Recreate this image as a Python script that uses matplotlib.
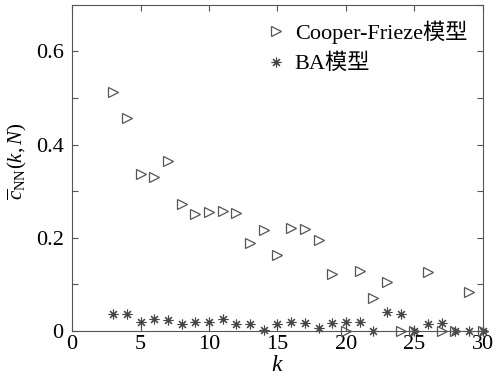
import matplotlib
matplotlib.use('Agg')
import matplotlib.pyplot as plt
from matplotlib.ticker import MultipleLocator

plt.rcParams['font.family'] = 'serif'
plt.rcParams['font.serif'] = ['Liberation Serif']
plt.rcParams['mathtext.fontset'] = 'custom'
plt.rcParams['mathtext.rm'] = 'Liberation Serif'
plt.rcParams['mathtext.it'] = 'Liberation Serif:italic'

# data
k = list(range(3, 31))
cooper_frieze = [0.514, 0.457, 0.337, 0.331, 0.364, 0.273, 0.252, 0.256, 0.258, 0.254,
                 0.188, 0.217, 0.163, 0.220, 0.219, 0.195, 0.123, 0.0, 0.129, 0.071,
                 0.104, 0.0, 0.0, 0.126, 0.0, 0.0, 0.083, 0.0]
ba = [0.036, 0.036, 0.019, 0.025, 0.024, 0.015, 0.018, 0.018, 0.026, 0.015,
      0.015, 0.002, 0.015, 0.019, 0.016, 0.007, 0.017, 0.020, 0.019, 0.0,
      0.041, 0.036, 0.0, 0.015, 0.016, 0.0, 0.0, 0.0]
yticks = [0, 0.1, 0.2, 0.3, 0.4, 0.5, 0.6, 0.7]
ytick_labels = ['0', '', '0.2', '', '0.4', '', '0.6', '']

fig = plt.figure(figsize=(5.04, 3.79), dpi=100)
ax = fig.add_axes([0.143, 0.127, 0.815, 0.860])

ax.plot(k, cooper_frieze, linestyle='none', marker='>', markersize=7,
        markerfacecolor='none', markeredgecolor='#555555', markeredgewidth=0.9,
        label='Cooper-Frieze模型', clip_on=False)
ax.plot(k, ba, linestyle='none', marker=(8, 2, 0), markersize=7,
        color='#444444', markeredgewidth=0.8, label='BA模型', clip_on=False)

ax.set_xlim(0, 30)
ax.set_ylim(0, 0.7)
ax.xaxis.set_major_locator(MultipleLocator(5))
ax.set_yticks(yticks)
ax.set_yticklabels(ytick_labels)
ax.tick_params(direction='in', top=True, right=True, length=4, width=0.8,
               color='#555555', labelsize=16)
ax.tick_params(axis='y', pad=6)
ax.tick_params(axis='x', pad=3)
for s in ax.spines.values():
    s.set_color('#555555')
    s.set_linewidth(0.8)

ax.set_xlabel(r'$k$', fontsize=17, labelpad=1)
ax.set_ylabel(r'$\overline{c}_{\rm NN}(k,N)$', fontsize=15)
ax.yaxis.set_label_coords(-0.105, 0.52)

ax.legend(loc='upper right', frameon=False, handlelength=0.6,
          handletextpad=0.55, labelspacing=0.45, borderaxespad=0.3,
          prop={'family': ['Liberation Serif', 'Noto Sans CJK SC'], 'size': 16})

fig.savefig('out.png', dpi=100)
